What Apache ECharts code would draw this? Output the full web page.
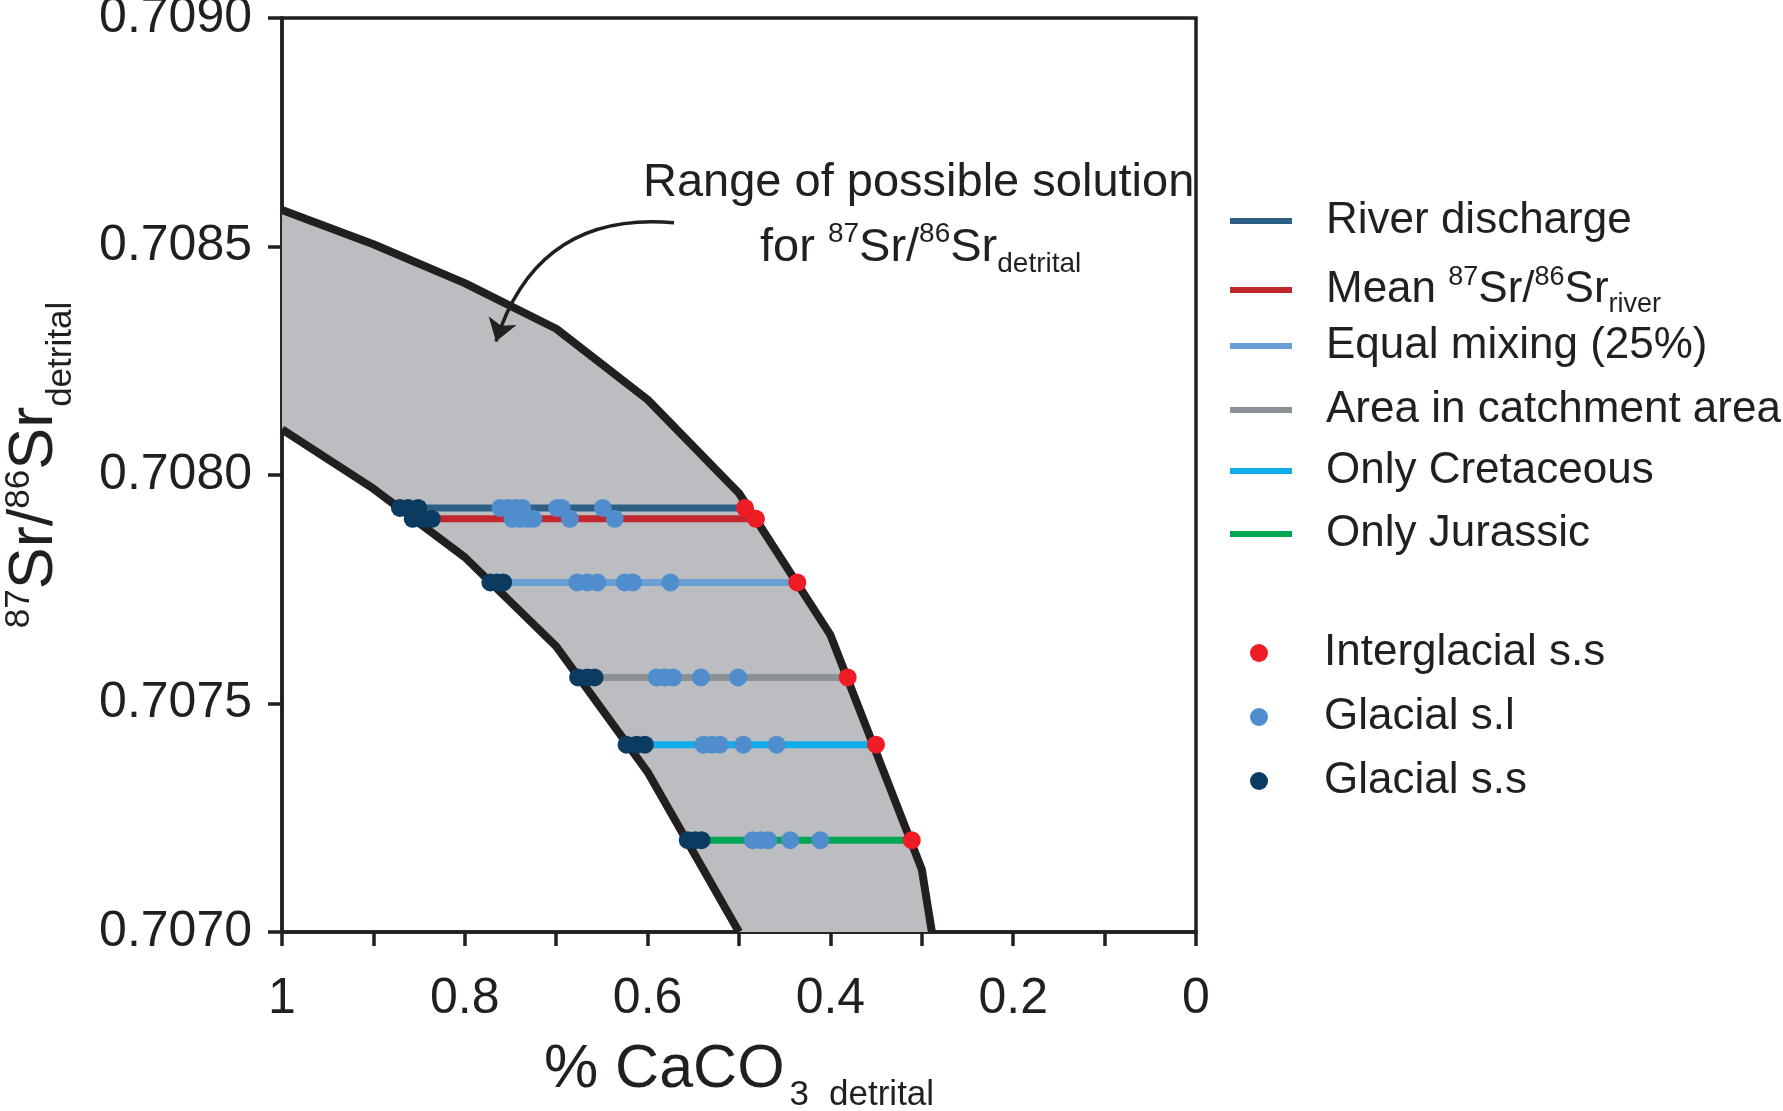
<!DOCTYPE html>
<html><head><meta charset="utf-8">
<script src="https://cdn.jsdelivr.net/npm/echarts@6/dist/echarts.min.js"></script>
<style>html,body{margin:0;padding:0;background:#fff}#c{width:1783px;height:1111px}</style>
</head><body><div id="c"></div>
<script>
// ---- data ----
const upperX = [1.0, 0.9, 0.8, 0.7, 0.6, 0.5, 0.4, 0.3, 0.289];
const upperY = [0.70858, 0.708505, 0.70842, 0.70832, 0.708165, 0.70796, 0.70765, 0.707137, 0.7070];
const lowerX = [1.0, 0.9, 0.8, 0.7, 0.6, 0.5];
const lowerY = [0.70810, 0.70797, 0.70782, 0.707625, 0.70735, 0.7070];

const lineNames = ['River discharge', 'Mean 87Sr/86Sr river', 'Equal mixing (25%)', 'Area in catchment area', 'Only Cretaceous', 'Only Jurassic'];
const lineLevels = [0.707928, 0.707904, 0.707765, 0.707557, 0.707410, 0.707201];
const interglacialX = [0.4934, 0.4814, 0.4362, 0.3811, 0.3501, 0.311];
const glacialSLX = [
  [0.761, 0.753, 0.745, 0.737, 0.699, 0.694, 0.649],
  [0.748, 0.740, 0.732, 0.725, 0.685, 0.636],
  [0.677, 0.666, 0.655, 0.625, 0.616, 0.575],
  [0.590, 0.581, 0.572, 0.5416, 0.501],
  [0.539, 0.530, 0.521, 0.4953, 0.4588],
  [0.485, 0.476, 0.468, 0.444, 0.411]
];
const glacialSSX = [
  [0.871, 0.862, 0.851],
  [0.857, 0.847, 0.836],
  [0.772, 0.765, 0.758],
  [0.676, 0.666, 0.658],
  [0.623, 0.612, 0.603],
  [0.556, 0.548, 0.541]
];
const dotNames = ['Interglacial s.s', 'Glacial s.l', 'Glacial s.s'];
const arrowHead = [0.7659, 0.708292];
const arrowTail = [0.5711, 0.708552];

// ---- styles ----
const ink = '#231f20';
const lineColors = ['#2c5f83', '#c3272e', '#6a9fd6', '#8b9296', '#10adea', '#00a651'];
const dotColors = ['#ee1c25', '#508dcc', '#0b3b60'];
const FONT = 'Liberation Sans, Arial, Helvetica, sans-serif';

const series = [];
series.push({
  type: 'custom', name: 'band', silent: true, z: 1,
  data: [[1, 0.708]],
  renderItem: function (params, api) {
    const pts = [];
    upperX.forEach((x, i) => pts.push(api.coord([x, upperY[i]])));
    for (let i = lowerX.length - 1; i >= 0; i--) pts.push(api.coord([lowerX[i], lowerY[i]]));
    return { type: 'polygon', shape: { points: pts }, style: { fill: '#bcbdc0' } };
  }
});
series.push({ type: 'line', name: 'upper', silent: true, z: 2, symbol: 'none',
  data: upperX.map((x, i) => [x, upperY[i]]), lineStyle: { color: ink, width: 8 } });
series.push({ type: 'line', name: 'lower', silent: true, z: 2, symbol: 'none',
  data: lowerX.map((x, i) => [x, lowerY[i]]), lineStyle: { color: ink, width: 8 } });
lineNames.forEach((n, i) => {
  const start = Math.max.apply(null, glacialSSX[i]);
  series.push({ type: 'line', name: n, z: 3, symbol: 'none', color: lineColors[i],
    data: [[start, lineLevels[i]], [interglacialX[i], lineLevels[i]]],
    lineStyle: { color: lineColors[i], width: 7 } });
});
series.push({ type: 'scatter', name: 'Glacial s.s', z: 4, symbolSize: 18, color: dotColors[2],
  itemStyle: { color: dotColors[2], opacity: 1 },
  data: glacialSSX.flatMap((arr, i) => arr.map(x => [x, lineLevels[i]])) });
series.push({ type: 'scatter', name: 'Glacial s.l', z: 4, symbolSize: 18, color: dotColors[1],
  itemStyle: { color: dotColors[1], opacity: 1 },
  data: glacialSLX.flatMap((arr, i) => arr.map(x => [x, lineLevels[i]])) });
series.push({ type: 'scatter', name: 'Interglacial s.s', z: 5, symbolSize: 18, color: dotColors[0],
  itemStyle: { color: dotColors[0], opacity: 1 },
  data: interglacialX.map((x, i) => [x, lineLevels[i]]) });
series.push({ type: 'lines', name: 'arrow', coordinateSystem: 'cartesian2d', silent: true, z: 6,
  symbol: ['arrow', 'none'], symbolSize: [22, 22],
  lineStyle: { color: ink, width: 3.5, curveness: 0.4, opacity: 1 },
  data: [{ coords: [arrowHead, arrowTail] }] });

const richLegend = {
  t: { fontSize: 44, fontFamily: FONT, color: ink, lineHeight: 56 },
  sup: { fontSize: 27, fontFamily: FONT, color: ink, verticalAlign: 'top', lineHeight: 27, padding: [2, 0, 0, 0] },
  sub: { fontSize: 27, fontFamily: FONT, color: ink, verticalAlign: 'bottom', lineHeight: 27 }
};
const lineRowCenters = [227, 290, 352, 416, 477, 540];
const dotRowCenters = [659, 723, 787];
const legends = [];
lineNames.forEach((n, i) => legends.push({
  data: [n], left: 1230, top: lineRowCenters[i] - 28, padding: 0, selectedMode: false,
  icon: 'rect', itemWidth: 62, itemHeight: 6,
  formatter: nm => nm.indexOf('Mean') === 0 ? '{t|Mean }{sup|87}{t|Sr/}{sup|86}{t|Sr}{sub|river}' : '{t|' + nm + '}',
  textStyle: { padding: [0, 0, 0, 29], rich: richLegend }
}));
dotNames.forEach((n, i) => legends.push({
  data: [n], left: 1250, top: dotRowCenters[i] - 28, padding: 0, selectedMode: false,
  icon: 'circle', itemWidth: 62, itemHeight: 18,
  formatter: nm => '{t|' + nm + '}',
  textStyle: { padding: [0, 0, 0, 29], rich: richLegend }
}));

const option = {
  animation: false,
  backgroundColor: '#ffffff',
  grid: { left: 282, right: 587, top: 18, bottom: 179, outerBoundsMode: 'none', containLabel: false,
    show: true, borderColor: ink, borderWidth: 3.5, backgroundColor: 'transparent' },
  legend: legends,
  xAxis: {
    type: 'value', inverse: true, min: 0, max: 1, interval: 0.1,
    axisLine: { onZero: false, lineStyle: { color: ink, width: 3.5 } },
    axisTick: { show: true, length: 14, lineStyle: { color: ink, width: 3.5 } },
    splitLine: { show: false },
    axisLabel: { margin: 42, fontSize: 50, fontFamily: FONT, color: ink,
      formatter: v => (Math.round(v * 10) % 2 === 0) ? String(+v.toFixed(1)) : '' },
    name: '{b|% CaCO}{sub|3}{sub2|detrital}', nameLocation: 'middle', nameGap: 95,
    nameTextStyle: { rich: {
      b: { fontSize: 61, fontFamily: FONT, color: ink, lineHeight: 86 },
      sub: { fontSize: 35, fontFamily: FONT, color: ink, lineHeight: 35, verticalAlign: 'bottom', padding: [0, 0, 0, 5] },
      sub2: { fontSize: 35, fontFamily: FONT, color: ink, lineHeight: 35, verticalAlign: 'bottom', padding: [0, 0, 0, 20] }
    } }
  },
  yAxis: {
    type: 'value', min: 0.707, max: 0.709, interval: 0.0005,
    axisLine: { onZero: false, lineStyle: { color: ink, width: 3.5 } },
    axisTick: { show: true, length: 14, lineStyle: { color: ink, width: 3.5 } },
    splitLine: { show: false },
    axisLabel: { margin: 30, fontSize: 50, fontFamily: FONT, color: ink, formatter: v => v.toFixed(4) },
    name: '{sup|87}{b|Sr/}{sup|86}{b|Sr}{sub|detrital}', nameLocation: 'middle', nameRotate: 90, nameGap: 203,
    nameTextStyle: { padding: [0, 0, 0, 20], rich: {
      b: { fontSize: 63, fontFamily: FONT, color: ink, lineHeight: 88 },
      sup: { fontSize: 35, fontFamily: FONT, color: ink, lineHeight: 35, verticalAlign: 'top', padding: [11, 0, 0, 0] },
      sub: { fontSize: 35, fontFamily: FONT, color: ink, lineHeight: 35, verticalAlign: 'bottom' }
    } }
  },
  graphic: [
    { type: 'text', left: 643, top: 160, silent: true,
      style: { text: 'Range of possible solution', font: '47px ' + FONT, fill: ink } },
    { type: 'text', left: 760, top: 218, silent: true,
      style: { text: '{t|for }{sup|87}{t|Sr/}{sup|86}{t|Sr}{sub|detrital}', fill: ink,
        rich: {
          t: { fontSize: 47, fontFamily: FONT, fill: ink, lineHeight: 60 },
          sup: { fontSize: 28, fontFamily: FONT, fill: ink, lineHeight: 28, verticalAlign: 'top', padding: [2, 0, 0, 0] },
          sub: { fontSize: 28, fontFamily: FONT, fill: ink, lineHeight: 28, verticalAlign: 'bottom' }
        } } }
  ],
  series: series
};
const chart = echarts.init(document.getElementById('c'), null, { renderer: 'canvas' });
chart.setOption(option);
</script></body></html>
